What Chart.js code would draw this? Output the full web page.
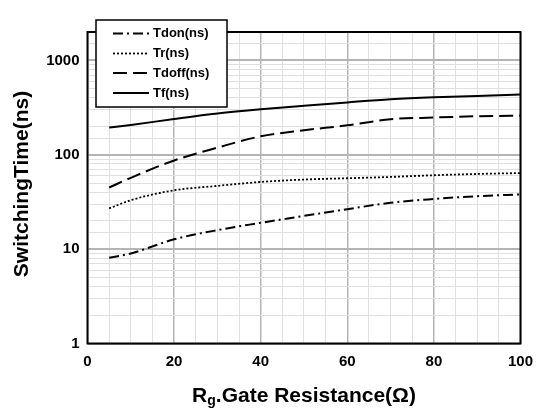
<!DOCTYPE html>
<html>
<head>
<meta charset="utf-8">
<script src="https://cdn.jsdelivr.net/npm/chart.js@4.4.1/dist/chart.umd.min.js"></script>
<style>
  body { margin: 0; background: #fff; }
</style>
</head>
<body>
<canvas id="myChart" width="542" height="408"></canvas>
<script>
// values
var resistance = [5, 10, 20, 30, 40, 50, 60, 70, 80, 90, 100];
var tdon  = [8.1, 9, 12.7, 15.9, 19, 22.5, 26.5, 31, 34, 36.4, 38];
var tr    = [27, 33, 42, 46.8, 51.5, 54.6, 56.4, 58.2, 60.7, 62.6, 64];
var tdoff = [45, 57, 87, 119, 157, 182, 205, 238, 248, 256, 260];
var tf    = [194, 207, 239, 273, 303, 331, 359, 387, 406, 419, 434];
var xTicks = [0, 20, 40, 60, 80, 100];
var yTicks = [1, 10, 100, 1000];

var FONT = "'Liberation Sans', Arial, sans-serif";

function pts(ys) {
  return resistance.map(function (x, i) { return {x: x, y: ys[i]}; });
}

function line(label, ys, dash, width) {
  return {
    label: label,
    data: pts(ys),
    borderColor: '#000',
    borderWidth: width,
    borderDash: dash,
    pointRadius: 0,
    fill: false,
    cubicInterpolationMode: 'monotone'
  };
}

// frame, legend box and axis titles
var extras = {
  id: 'extras',
  afterDatasetsDraw: function (chart) {
    var c = chart.ctx, a = chart.chartArea;
    c.save();
    c.strokeStyle = '#000';
    c.lineWidth = 2;
    c.strokeRect(a.left, a.top, a.right - a.left, a.bottom - a.top);
    c.restore();
  },
  afterDraw: function (chart) {
    var c = chart.ctx, a = chart.chartArea;
    c.save();
    // legend
    c.fillStyle = '#fff';
    c.fillRect(96, 20, 131, 87);
    c.strokeStyle = '#000';
    c.lineWidth = 1.5;
    c.strokeRect(96, 20, 131, 87);
    var rows = [33.5, 53.5, 73, 93];
    chart.data.datasets.forEach(function (ds, i) {
      c.beginPath();
      c.setLineDash(ds.borderDash);
      c.lineWidth = ds.borderWidth;
      c.moveTo(113, rows[i]);
      c.lineTo(149, rows[i]);
      c.stroke();
      c.setLineDash([]);
      c.fillStyle = '#000';
      c.font = 'bold 13px ' + FONT;
      c.textBaseline = 'middle';
      c.textAlign = 'left';
      c.fillText(ds.label, 153, rows[i]);
    });
    // y title
    c.save();
    c.translate(22, 184);
    c.rotate(-Math.PI / 2);
    c.font = 'bold 21px ' + FONT;
    c.textAlign = 'center';
    c.textBaseline = 'middle';
    c.fillText('SwitchingTime(ns)', 0, 0);
    c.restore();
    // x title with subscript g
    var big = 'bold 21px ' + FONT, small = 'bold 14px ' + FONT;
    var p1 = 'R', p2 = 'g', p3 = '.Gate Resistance(\u03A9)';
    c.font = big;
    var w1 = c.measureText(p1).width, w3 = c.measureText(p3).width;
    c.font = small;
    var w2 = c.measureText(p2).width;
    var x0 = (a.left + a.right) / 2 - (w1 + w2 + w3) / 2;
    var base = 402;
    c.textAlign = 'left';
    c.textBaseline = 'alphabetic';
    c.font = big;
    c.fillText(p1, x0, base);
    c.font = small;
    c.fillText(p2, x0 + w1, base + 3);
    c.font = big;
    c.fillText(p3, x0 + w1 + w2, base);
    c.restore();
  }
};

var ctx = document.getElementById('myChart');
var myChart = new Chart(ctx, {
  type: 'line',
  data: {
    datasets: [
      line('Tdon(ns)', tdon, [10, 4, 2, 4], 2),
      line('Tr(ns)', tr, [2, 2], 1.8),
      line('Tdoff(ns)', tdoff, [14, 6], 2),
      line('Tf(ns)', tf, [], 2)
    ]
  },
  options: {
    responsive: false,
    animation: false,
    layout: { padding: { left: 0, top: 32, right: 21, bottom: 0 } },
    plugins: { legend: { display: false }, tooltip: { enabled: false } },
    scales: {
      x: {
        type: 'linear',
        min: 0,
        max: 100,
        afterFit: function (s) { s.height = 64.5; },
        border: { display: false },
        grid: {
          drawTicks: false,
          color: function (g) { return g.tick && g.tick.value % 20 === 0 ? '#b4b4b4' : '#e0e0e0'; },
          lineWidth: function (g) { return g.tick && g.tick.value % 20 === 0 ? 1.5 : 1; }
        },
        ticks: {
          stepSize: 5,
          autoSkip: false,
          maxRotation: 0,
          padding: 9,
          color: '#000',
          font: { family: FONT, size: 15, weight: 'bold' },
          callback: function (v) { return xTicks.indexOf(v) >= 0 ? String(v) : ''; }
        }
      },
      y: {
        type: 'logarithmic',
        min: 1,
        max: 2000,
        afterFit: function (s) { s.width = 87.5; },
        border: { display: false },
        grid: {
          drawTicks: false,
          color: function (g) { return g.tick && yTicks.indexOf(g.tick.value) >= 0 ? '#b4b4b4' : '#e0e0e0'; },
          lineWidth: function (g) { return g.tick && yTicks.indexOf(g.tick.value) >= 0 ? 2 : 1; }
        },
        ticks: {
          autoSkip: false,
          padding: 8,
          color: '#000',
          font: { family: FONT, size: 15, weight: 'bold' },
          callback: function (v) { return yTicks.indexOf(v) >= 0 ? String(v) : ''; }
        }
      }
    }
  },
  plugins: [extras]
});
</script>
</body>
</html>
